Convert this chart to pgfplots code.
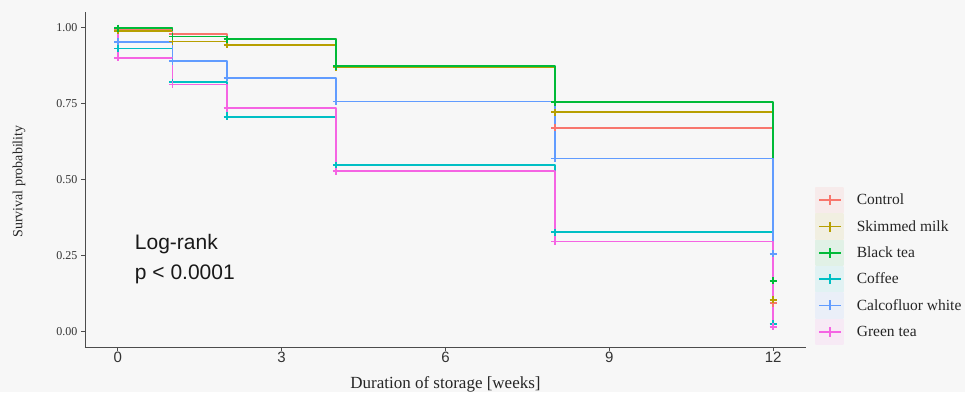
\documentclass[border=0pt]{standalone}
\usepackage{fontspec}
\setmainfont{Liberation Serif}
\newfontfamily\arial{Liberation Sans}
\usepackage{pgfplots}
\pgfplotsset{compat=1.18}
\definecolor{cC}{HTML}{F8766D}
\definecolor{cS}{HTML}{B79F00}
\definecolor{cB}{HTML}{00BA38}
\definecolor{cF}{HTML}{00BFC4}
\definecolor{cW}{HTML}{619CFF}
\definecolor{cG}{HTML}{F564E3}
\definecolor{bg}{HTML}{F7F7F7}
\pgfplotsset{
  kmkey/.style={legend image code/.code={
    \fill[#1!9!bg] (0pt,-12.35pt) rectangle (27pt,12.35pt);
    \draw[#1, line width=1.6pt] (3pt,0pt) -- (25pt,0pt);
    \draw[#1, line width=1.6pt] (14pt,-5pt) -- (14pt,5pt);
  }},
  kmline/.style={#1, line width=1.6pt, const plot mark left, line join=round, kmkey=#1},
  kmmark/.style={#1, only marks, mark=+, mark size=3.5pt, mark options={line width=1.6pt}, forget plot},
}
\begin{document}
\begin{tikzpicture}[x=1pt,y=1pt]
\fill[bg] (-85,-45) rectangle (880,347);
\useasboundingbox (-85,-45) rectangle (880,347);
\begin{axis}[
  at={(0,0)}, anchor=south west,
  scale only axis, width=721pt, height=335pt,
  xmin=-0.6, xmax=12.6, ymin=-0.05, ymax=1.05,
  axis x line*=bottom, axis y line*=left,
  axis line style={draw=black!70, line width=0.9pt, -},
  tick style={draw=black!70, line width=0.9pt},
  tick align=outside, major tick length=4pt,
  xtick={0,3,6,9,12}, ytick={0,0.25,0.5,0.75,1},
  yticklabels={0.00,0.25,0.50,0.75,1.00},
  /pgf/number format/assume math mode=true,
  x tick label style={font=\arial\fontsize{15}{15}\selectfont, text=black!80, yshift=3pt},
  y tick label style={font=\fontsize{12}{12}\selectfont, text=black!80},
  xlabel={Duration of storage [weeks]},
  xlabel style={font=\fontsize{17}{17}\selectfont, text=black!85, at={(axis description cs:0.5,-0.1224)}, anchor=base},
  ylabel={Survival probability},
  ylabel style={font=\fontsize{14}{14}\selectfont, text=black!85, at={(axis description cs:-0.0915,0.494)}, anchor=center, rotate=0},
  legend style={at={(axis description cs:1.0125,0.478)}, anchor=north west, draw=none, fill=none,
    font=\fontsize{15.5}{15.5}\selectfont, inner sep=0pt, row sep=0pt,
    nodes={inner sep=0pt, text=black!85},
    /tikz/every odd column/.append style={column sep=13pt}},
  legend cell align=left,
  clip=false,
]
% Control
\addplot[kmline=cC] coordinates {(0,1)(0,0.99)(1,0.977)(2,0.961)(4,0.870)(8,0.670)(12,0.094)};
\addlegendentry{Control}
\addplot[kmmark=cC] coordinates {(0,0.99)(1,0.977)(2,0.961)(4,0.870)(8,0.670)(12,0.094)};
% Skimmed milk
\addplot[kmline=cS] coordinates {(0,1)(0,0.988)(1,0.953)(2,0.942)(4,0.868)(8,0.721)(12,0.105)};
\addlegendentry{Skimmed milk}
\addplot[kmmark=cS] coordinates {(0,0.988)(1,0.953)(2,0.942)(4,0.868)(8,0.721)(12,0.105)};
% Black tea
\addplot[kmline=cB] coordinates {(0,1)(0,0.997)(1,0.969)(2,0.961)(4,0.872)(8,0.754)(12,0.167)};
\addlegendentry{Black tea}
\addplot[kmmark=cB] coordinates {(0,0.997)(1,0.969)(2,0.961)(4,0.872)(8,0.754)(12,0.167)};
% Coffee
\addplot[kmline=cF] coordinates {(0,1)(0,0.930)(1,0.820)(2,0.706)(4,0.547)(8,0.327)(12,0.026)};
\addlegendentry{Coffee}
\addplot[kmmark=cF] coordinates {(0,0.930)(1,0.820)(2,0.706)(4,0.547)(8,0.327)(12,0.026)};
% Calcofluor white
\addplot[kmline=cW] coordinates {(0,1)(0,0.952)(1,0.889)(2,0.834)(4,0.756)(8,0.569)(12,0.256)};
\addlegendentry{Calcofluor white}
\addplot[kmmark=cW] coordinates {(0,0.952)(1,0.889)(2,0.834)(4,0.756)(8,0.569)(12,0.256)};
% Green tea
\addplot[kmline=cG] coordinates {(0,1)(0,0.899)(1,0.8125)(2,0.734)(4,0.527)(8,0.296)(12,0.016)};
\addlegendentry{Green tea}
\addplot[kmmark=cG] coordinates {(0,0.899)(1,0.8125)(2,0.734)(4,0.527)(8,0.296)(12,0.016)};
\node[anchor=base west, font=\arial\fontsize{21}{21}\selectfont, text=black!90] at (axis cs:0.25,0.270) {Log-rank};
\node[anchor=base west, font=\arial\fontsize{21}{21}\selectfont, text=black!90] at (axis cs:0.25,0.173) {p < 0.0001};
\end{axis}
\end{tikzpicture}
\end{document}
